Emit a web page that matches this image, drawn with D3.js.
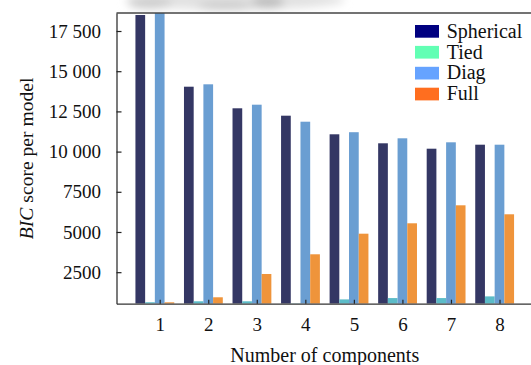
<!DOCTYPE html>
<html>
<head>
<meta charset="utf-8">
<script src="https://cdn.jsdelivr.net/npm/d3@7"></script>
<style>
  body { margin: 0; background: #fff; }
  svg { display: block; }
  svg text { font-family: "Liberation Serif", Times, "DejaVu Serif", serif; fill: #111; }
</style>
</head>
<body>
<div id="chart"></div>
<script>
// values
var components = [1, 2, 3, 4, 5, 6, 7, 8];
var spherical = [18495, 14036, 12693, 12233, 11076, 10516, 10180, 10429];
var tied      = [630, 690, 690, 560, 808, 890, 890, 995];
var diag      = [18620, 14185, 12917, 11859, 11206, 10827, 10578, 10429];
var full      = [626, 939, 2388, 3613, 4894, 5541, 6660, 6101];

var seriesNames = ["Spherical", "Tied", "Diag", "Full"];
var barColors    = ["#343764", "#5cbcc8", "#6a9ed2", "#ef943b"];
var legendColors = ["#000080", "#62ffb4", "#66a3ff", "#ff6e1f"];

var yTicks = [2500, 5000, 7500, 10000, 12500, 15000, 17500];
var yTickLabels = ["2500", "5000", "7500", "10 000", "12 500", "15 000", "17 500"];

var serif = "'Liberation Serif', Times, 'DejaVu Serif', serif";

function BicChart(){
  var w, h;
  var margin = {top: 13, right: -2, bottom: 61.3, left: 116.5};

  function my(selection){
    selection.each(function(data){

      var width = w - margin.left - margin.right,
          height = h - margin.top - margin.bottom;

      var x = d3.scaleLinear()
                .domain([0.11, 8.69])
                .range([0, width]);
      var y = d3.scaleLinear()
                .domain([540, 18620])
                .range([height, 0]);
      var unit = x(1) - x(0);

      var root = d3.select(this).append("svg")
          .attr("width", w)
          .attr("height", h)
          .attr("font-family", serif);

      // blurry grey smudge along the top edge of the scan
      var defs = root.append("defs");
      defs.append("filter").attr("id", "blur")
        .append("feGaussianBlur").attr("stdDeviation", 4);
      defs.append("clipPath").attr("id", "topclip")
        .append("rect").attr("x", 0).attr("y", 0).attr("width", w).attr("height", 12);
      defs.append("clipPath").attr("id", "plotclip")
        .append("rect").attr("x", 0).attr("y", 0).attr("width", width + 10).attr("height", height);

      var smudge = root.append("g").attr("clip-path", "url(#topclip)")
        .append("g").attr("filter", "url(#blur)");
      smudge.append("ellipse").attr("cx", 235).attr("cy", 0).attr("rx", 110).attr("ry", 10).attr("fill", "#e2e2e2");
      smudge.append("ellipse").attr("cx", 150).attr("cy", 3).attr("rx", 22).attr("ry", 6).attr("fill", "#cdcdcd");
      smudge.append("ellipse").attr("cx", 225).attr("cy", 6).attr("rx", 28).attr("ry", 4).attr("fill", "#c8c8c8");
      smudge.append("ellipse").attr("cx", 268).attr("cy", 2).attr("rx", 16).attr("ry", 6).attr("fill", "#bdbdbd");

      var svg = root.append("g")
          .attr("transform", "translate(" + margin.left + "," + margin.top + ")");

      // bars: four per group, centred at c + 0.2*(i-2)
      var bars = svg.append("g").attr("clip-path", "url(#plotclip)");
      data.forEach(function(series, i){
        bars.selectAll(".bar" + i)
            .data(series)
          .enter().append("rect")
            .attr("class", "bar" + i)
            .attr("x", function(d, j){ return x(components[j] + 0.2 * (i - 2) - 0.1); })
            .attr("width", unit * 0.2)
            .attr("y", function(d){ return y(d); })
            .attr("height", function(d){ return height - y(d); })
            .attr("fill", barColors[i]);
      });

      // top frame line
      svg.append("line")
          .attr("x1", 0).attr("x2", width)
          .attr("y1", 0).attr("y2", 0)
          .attr("stroke", "#444").attr("stroke-width", 1.3);

      // y axis, ticks pointing in
      var yAxis = svg.append("g")
          .call(d3.axisLeft(y)
            .tickValues(yTicks)
            .tickFormat(function(d, i){ return yTickLabels[i]; })
            .tickSize(-5).tickSizeOuter(0).tickPadding(15.5));

      // x axis
      var xAxis = svg.append("g")
          .attr("transform", "translate(0," + height + ")")
          .call(d3.axisBottom(x)
            .tickValues(components)
            .tickFormat(d3.format("d"))
            .tickSize(-4).tickSizeOuter(0).tickPadding(14));

      [yAxis, xAxis].forEach(function(a){
        a.attr("font-family", serif).attr("font-size", 19);
        a.select(".domain").attr("stroke", "#333").attr("stroke-width", 1.3);
        a.selectAll(".tick line").attr("stroke", "#222").attr("stroke-width", 1.2);
        a.selectAll(".tick text").attr("fill", "#111");
      });

      // axis titles
      root.append("text")
          .attr("x", margin.left + width / 2)
          .attr("y", 362)
          .attr("text-anchor", "middle")
          .attr("font-size", 20)
          .text("Number of components");

      var yl = root.append("text")
          .attr("transform", "translate(32.5," + (margin.top + height / 2) + ") rotate(-90)")
          .attr("text-anchor", "middle")
          .attr("font-size", 19.6);
      yl.append("tspan").attr("font-style", "italic").text("BIC");
      yl.append("tspan").text(" score per model");

      // legend
      var legend = root.append("g")
          .attr("transform", "translate(415,25)");
      var rows = legend.selectAll(".row")
          .data(seriesNames)
        .enter().append("g")
          .attr("transform", function(d, i){ return "translate(0," + (i * 20.9) + ")"; });
      rows.append("rect")
          .attr("width", 24).attr("height", 12.7)
          .attr("fill", function(d, i){ return legendColors[i]; });
      rows.append("text")
          .attr("x", 31.7).attr("y", 12.6)
          .attr("font-size", 20)
          .text(function(d){ return d; });
    });
  }

  my.width = function(value){
      if(!arguments.length) return w;
      w = value;
      return my;
  }

  my.height = function(value){
      if(!arguments.length) return h;
      h = value;
      return my;
  }

  return my;
}

var chart = BicChart().width(531).height(365);
d3.select("#chart")
    .datum([spherical, tied, diag, full])
    .call(chart);
</script>
</body>
</html>
